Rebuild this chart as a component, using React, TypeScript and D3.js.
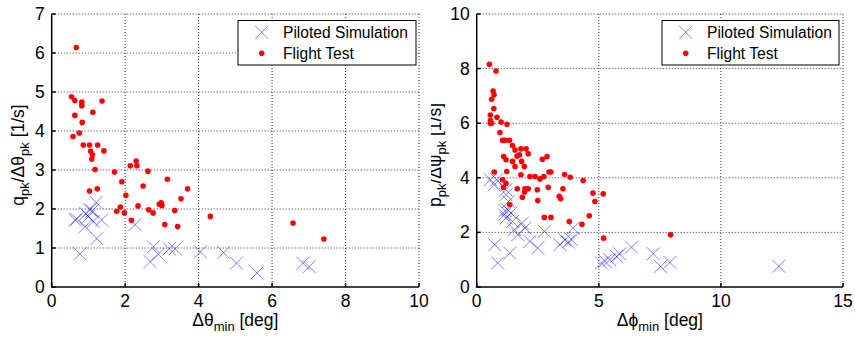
import React from "react";
import * as d3 from "d3";

// ---------- Left panel data (pitch) ----------
const pitchSimX = [0.64, 0.77, 1.21, 1.04, 0.93, 0.68, 1.0, 1.13, 1.36, 0.91, 1.23, 1.1, 2.27, 2.77, 2.9, 2.68, 3.2, 3.36, 4.05, 4.68, 5.03, 5.59, 6.84, 7.01];
const pitchSimY = [1.72, 0.85, 2.17, 1.98, 1.88, 1.74, 1.81, 1.68, 1.72, 1.55, 1.24, 1.95, 1.6, 1.03, 0.84, 0.65, 0.98, 0.98, 0.9, 0.88, 0.61, 0.36, 0.61, 0.52];
const pitchFltX = [0.67, 0.54, 0.63, 0.82, 0.82, 1.37, 0.63, 1.12, 0.83, 0.75, 0.58, 0.86, 1.03, 1.25, 1.06, 1.42, 1.11, 1.09, 1.18, 1.71, 2.14, 2.3, 2.32, 2.62, 1.91, 3.15, 1.03, 1.24, 2.49, 2.02, 3.7, 3.52, 1.77, 1.87, 1.98, 2.35, 2.64, 2.76, 2.98, 2.93, 3.0, 3.35, 2.17, 3.08, 3.43, 4.32, 6.57, 7.41];
const pitchFltY = [6.14, 4.88, 4.78, 4.74, 4.65, 4.77, 4.4, 4.48, 4.22, 3.95, 3.86, 3.64, 3.64, 3.64, 3.48, 3.49, 3.39, 3.28, 3.01, 2.95, 3.11, 3.23, 3.11, 2.97, 2.7, 2.76, 2.46, 2.52, 2.59, 2.35, 2.52, 2.26, 1.94, 2.05, 1.9, 2.08, 1.98, 1.9, 2.16, 2.12, 2.09, 1.96, 1.71, 1.6, 1.55, 1.81, 1.64, 1.23];

// ---------- Right panel data (roll) ----------
const rollSimX = [0.56, 0.82, 0.72, 1.19, 1.2, 1.3, 1.16, 1.4, 1.27, 1.13, 1.2, 1.47, 1.54, 1.87, 1.98, 1.68, 2.18, 2.5, 2.77, 0.74, 0.86, 1.36, 3.41, 3.61, 3.75, 3.89, 3.95, 5.11, 5.25, 5.45, 5.73, 5.86, 6.34, 7.23, 7.53, 7.91, 12.37];
const rollSimY = [3.93, 3.93, 3.74, 3.56, 3.38, 3.13, 2.8, 2.71, 2.83, 2.65, 2.52, 2.4, 2.1, 2.34, 2.16, 1.91, 1.67, 1.43, 2.04, 1.55, 0.88, 1.24, 1.55, 1.73, 1.65, 1.73, 2.16, 0.88, 0.94, 1.0, 1.12, 1.21, 1.46, 1.22, 0.75, 0.9, 0.76];
const rollFltX = [0.52, 0.79, 0.67, 0.71, 0.61, 0.7, 0.56, 0.83, 0.56, 0.61, 0.56, 1.0, 1.24, 0.95, 1.06, 1.16, 1.34, 1.47, 1.57, 1.81, 2.02, 1.65, 1.75, 2.11, 1.1, 1.2, 1.47, 1.84, 1.57, 1.95, 2.88, 2.69, 1.23, 1.81, 2.18, 2.39, 2.59, 2.75, 2.96, 3.04, 3.6, 3.83, 4.36, 0.72, 1.06, 1.2, 1.1, 1.66, 1.98, 2.11, 2.48, 1.96, 1.87, 2.93, 3.53, 3.38, 3.44, 2.5, 1.35, 4.76, 5.18, 4.84, 2.77, 3.04, 3.79, 4.31, 4.61, 5.2, 7.94];
const rollFltY = [8.16, 7.91, 7.18, 7.04, 6.88, 6.54, 6.3, 6.22, 6.1, 6.0, 6.0, 6.04, 5.96, 5.66, 5.37, 5.37, 5.37, 5.18, 5.02, 5.06, 5.06, 4.8, 4.84, 4.88, 4.78, 4.66, 4.6, 4.6, 4.41, 4.41, 4.78, 4.68, 4.23, 4.11, 4.05, 4.05, 3.96, 4.05, 4.21, 4.21, 4.12, 4.02, 3.9, 4.21, 3.93, 3.8, 3.65, 3.6, 3.6, 3.6, 3.56, 3.48, 3.29, 3.65, 3.6, 3.32, 3.23, 3.17, 3.02, 3.44, 3.41, 3.13, 2.55, 2.55, 2.4, 2.3, 2.61, 1.79, 1.91];

const pitchXTicks = [0, 2, 4, 6, 8, 10];
const pitchYTicks = [0, 1, 2, 3, 4, 5, 6, 7];
const rollXTicks = [0, 5, 10, 15];
const rollYTicks = [0, 2, 4, 6, 8, 10];

const legendLabels = ["Piloted Simulation", "Flight Test"];

const FONT = "Arial, 'Liberation Sans', Helvetica, sans-serif";
const SIM_COLOR = "#0000ff";
const FLT_COLOR = "#ff0000";

type PanelProps = {
  left: number;
  right: number;
  top: number;
  bottom: number;
  xTicks: number[];
  yTicks: number[];
  simX: number[];
  simY: number[];
  fltX: number[];
  fltY: number[];
  xSym: string;
  ySym: string;
  yNum: string;
  yLabelX: number;
  legendX0: number;
  legendX1: number;
};

function Cross({ cx, cy, s }: { cx: number; cy: number; s: number }) {
  return (
    <g stroke={SIM_COLOR} strokeWidth={1} strokeOpacity={0.5}>
      <line x1={cx - s} y1={cy - s} x2={cx + s} y2={cy + s} />
      <line x1={cx - s} y1={cy + s} x2={cx + s} y2={cy - s} />
    </g>
  );
}

function Panel(p: PanelProps) {
  const xs = d3.scaleLinear().domain([p.xTicks[0], p.xTicks[p.xTicks.length - 1]]).range([p.left, p.right]);
  const ys = d3.scaleLinear().domain([p.yTicks[0], p.yTicks[p.yTicks.length - 1]]).range([p.bottom, p.top]);
  const cxm = (p.left + p.right) / 2;
  return (
    <g fontFamily={FONT}>
      {/* grid */}
      {p.xTicks.slice(1).map((t) => (
        <line key={"gx" + t} x1={xs(t)} x2={xs(t)} y1={p.top} y2={p.bottom} stroke="#333" strokeWidth={1} strokeDasharray="1 2" />
      ))}
      {p.yTicks.slice(1).map((t) => (
        <line key={"gy" + t} x1={p.left} x2={p.right} y1={ys(t)} y2={ys(t)} stroke="#333" strokeWidth={1} strokeDasharray="1 2" />
      ))}
      {/* data */}
      {p.simX.map((x, i) => (
        <Cross key={"s" + i} cx={xs(x)} cy={ys(p.simY[i])} s={6.5} />
      ))}
      {p.fltX.map((x, i) => (
        <circle key={"f" + i} cx={xs(x)} cy={ys(p.fltY[i])} r={2.8} fill={FLT_COLOR} />
      ))}
      {/* axes */}
      <line x1={p.left} x2={p.left} y1={p.top} y2={p.bottom + 0.75} stroke="#000" strokeWidth={1.5} />
      <line x1={p.left - 0.75} x2={p.right} y1={p.bottom} y2={p.bottom} stroke="#000" strokeWidth={1.5} />
      {p.xTicks.map((t) => (
        <g key={"tx" + t}>
          <line x1={xs(t)} x2={xs(t)} y1={p.bottom} y2={p.bottom - 4} stroke="#000" strokeWidth={1.5} />
          <text x={xs(t)} y={p.bottom + 20} fontSize={17.5} textAnchor="middle">{t}</text>
        </g>
      ))}
      {p.yTicks.map((t) => (
        <g key={"ty" + t}>
          <line x1={p.left} x2={p.left + 4} y1={ys(t)} y2={ys(t)} stroke="#000" strokeWidth={1.5} />
          <text x={p.left - 7} y={ys(t) + 6} fontSize={17.5} textAnchor="end">{t}</text>
        </g>
      ))}
      {/* x label */}
      <text x={cxm} y={326} fontSize={17.5} textAnchor="middle">
        {"Δ" + p.xSym}
        <tspan fontSize={13} dy={5}>min</tspan>
        <tspan dy={-5}>{" [deg]"}</tspan>
      </text>
      {/* y label */}
      <text transform={`translate(${p.yLabelX},155) rotate(-90)`} fontSize={17.5} textAnchor="middle">
        {p.yNum}
        <tspan fontSize={13} dy={5}>pk</tspan>
        <tspan dy={-5}>{"/Δ" + p.ySym}</tspan>
        <tspan fontSize={13} dy={5}>pk</tspan>
        <tspan dy={-5}>{" [1/s]"}</tspan>
      </text>
      {/* legend */}
      <rect x={p.legendX0} y={20.5} width={p.legendX1 - p.legendX0} height={44.5} fill="#fff" stroke="#000" strokeWidth={1} />
      <Cross cx={p.legendX0 + 23.7} cy={32.3} s={6.5} />
      <circle cx={p.legendX0 + 23.7} cy={53.3} r={2.8} fill={FLT_COLOR} />
      <text x={p.legendX0 + 45} y={38} fontSize={15.6}>{legendLabels[0]}</text>
      <text x={p.legendX0 + 45} y={59} fontSize={15.6}>{legendLabels[1]}</text>
    </g>
  );
}

export default function App() {
  return (
    <svg width={855} height={337} style={{ position: "fixed", left: 0, top: 0, background: "#fff" }}>
      <defs>
        <clipPath id="leftClip"><rect x={0} y={0} width={430} height={337} /></clipPath>
        <clipPath id="rightClip"><rect x={431} y={0} width={424} height={337} /></clipPath>
      </defs>
      <rect x={0} y={0} width={855} height={337} fill="#fff" />
      <g clipPath="url(#leftClip)">
        <Panel left={51.7} right={419} top={14} bottom={287} xTicks={pitchXTicks} yTicks={pitchYTicks}
          simX={pitchSimX} simY={pitchSimY} fltX={pitchFltX} fltY={pitchFltY}
          xSym="θ" ySym="θ" yNum="q" yLabelX={24} legendX0={238} legendX1={416} />
      </g>
      <g clipPath="url(#rightClip)">
        <Panel left={476.7} right={843} top={14} bottom={287} xTicks={rollXTicks} yTicks={rollYTicks}
          simX={rollSimX} simY={rollSimY} fltX={rollFltX} fltY={rollFltY}
          xSym="ϕ" ySym="ψ" yNum="p" yLabelX={441} legendX0={662} legendX1={839} />
      </g>
    </svg>
  );
}
